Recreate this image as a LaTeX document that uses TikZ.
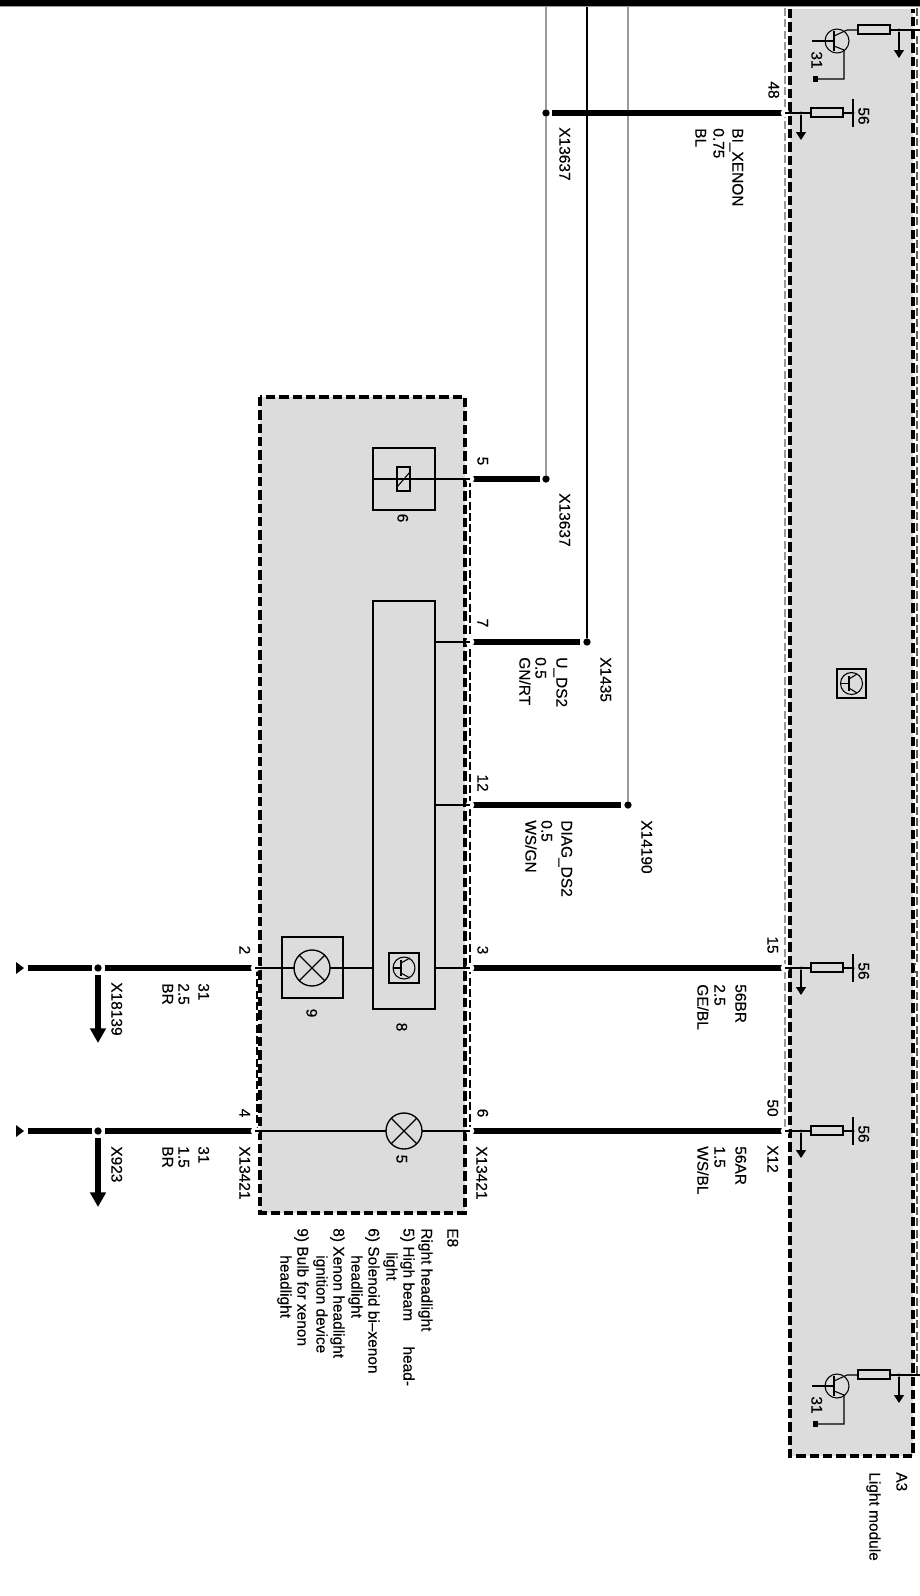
\documentclass[tikz,border=0pt]{standalone}
\usepackage{fontspec}
\setmainfont{Liberation Sans}
\newfontfamily\labfont[FakeBold=0.25]{Liberation Sans}
\usetikzlibrary{arrows.meta,calc,positioning}
\definecolor{boxgray}{HTML}{DCDCDC}
\definecolor{wiregray}{HTML}{9A9A9A}

\begin{document}
\begin{tikzpicture}[x=0.75pt,y=-0.75pt,>=stealth]

    % Styles
    \tikzset{
        lab/.style={rotate=-90, anchor=west, inner sep=0pt, text height=8.4pt, text depth=0pt,
            font=\labfont\fontsize{11.6pt}{13pt}\selectfont},
        pinlab/.style={lab, anchor=center},
        unit/.style={draw=black, line width=2.4pt, dash pattern=on 7pt off 3pt, fill=boxgray},
        shield/.style={line width=0.8pt, dash pattern=on 6pt off 2.5pt},
        wire/.style={line width=4.4pt},
        thin/.style={line width=0.8pt},
        pinhole/.style={circle, fill=white, inner sep=0pt, minimum size=6.5pt},
        junction/.style={circle, fill=black, inner sep=0pt, minimum size=5.5pt},
        smalljoin/.style={circle, fill=black, inner sep=0pt, minimum size=2.6pt},
        part/.style={draw=black, line width=0.8pt},
        fuse/.style={draw=black, line width=1pt, fill=boxgray},
        downthick/.style={line width=3.8pt, -{Triangle[length=11pt,width=11.5pt]}},
        downthin/.style={line width=0.9pt, -{Triangle[length=6pt,width=7.5pt]}}
    }

    \useasboundingbox (0,0) rectangle (920,1596);

    % Top edge of the sheet
    \fill[black] (0,0) rectangle (920,6);
    \fill[wiregray] (0,6) rectangle (920,7);

    % Units
    \draw[unit] (790,9) -- (790,1456) -- (913,1456) -- (913,9);
    \draw[unit] (260,397) rectangle (465,1213);

    % Thin shields
    \draw[shield, wiregray] (785,8) -- (785,1131);
    \draw[shield, wiregray!60!black] (917,8) -- (917,25);
    \draw[shield, wiregray!60!black] (917,36) -- (917,964) -- (914,964);
    \draw[shield, wiregray!60!black] (914,972) -- (917,972) -- (917,1375) -- (913,1375);
    \draw[shield] (470,479) -- (470,1131);
    \draw[shield] (257,968) -- (257,1131);

    % Pins on the right headlight and the light module
    \coordinate (p5) at (470,479);
    \coordinate (p7) at (470,642);
    \coordinate (p12) at (470,805);
    \coordinate (p3) at (470,968);
    \coordinate (p6) at (470,1131);
    \coordinate (p2) at (255,968);
    \coordinate (p4) at (255,1131);
    \coordinate (m48) at (785,113);
    \coordinate (m15) at (785,968);
    \coordinate (m50) at (785,1131);

    % Splices
    \node[junction] (s48) at (546,113) {};
    \node[junction] (s5) at (546,479) {};
    \node[junction] (s7) at (587,642) {};
    \node[junction] (s12) at (628,805) {};
    \node[junction] (g2) at (98,968) {};
    \node[junction] (g4) at (98,1131) {};

    % Vertical wires from above
    \coordinate (t1) at (546,7);
    \coordinate (t2) at (587,7);
    \coordinate (t3) at (628,7);
    \draw[line width=1pt, wiregray] (t1) -- (s48) -- (s5);
    \draw[line width=1pt, black] (t2) -- (s7);
    \draw[line width=1pt, wiregray] (t3) -- (s12);

    % Thick wires
    \draw[wire] ($(s48)+(6,0)$) -- (m48);
    \draw[wire] (p5) -- ($(s5)-(6,0)$);
    \draw[wire] (p7) -- ($(s7)-(7,0)$);
    \draw[wire] (p12) -- ($(s12)-(7,0)$);
    \draw[wire] (p3) -- (m15);
    \draw[wire] (p6) -- (m50);
    \draw[wire] (p2) -- ($(g2)+(7,0)$);
    \draw[wire] ($(g2)-(6,0)$) -- (28,968);
    \draw[wire] (p4) -- ($(g4)+(7,0)$);
    \draw[wire] ($(g4)-(6,0)$) -- (28,1131);

    % Wire ends at left
    \fill[black] (16,962) -- (24,968) -- (16,974) -- cycle;
    \fill[black] (16,1125) -- (24,1131) -- (16,1137) -- cycle;

    % Ground arrows
    \coordinate (a2) at (98,1043);
    \coordinate (a4) at (98,1207);
    \draw[downthick] ($(g2)+(0,7)$) -- (a2);
    \draw[downthick] ($(g4)+(0,7)$) -- (a4);

    % Pin holes
    \foreach \p in {p5,p7,p12,p3,p6,p2,p4,m48,m15,m50}
        \node[pinhole] at (\p) {};

    % Solenoid 6
    \draw[part] (373,448) rectangle (435,510);
    \draw[thin] (373,479) -- (p5);
    \draw[part] (397,467) rectangle (410,491);
    \draw[thin] (397,487) -- (410,472);

    % Ignition device 8
    \draw[part] (373,601) rectangle (435,1009);
    \draw[thin] (435,642) -- (p7);
    \draw[thin] (435,805) -- (p12);
    \draw[thin] (435,968) -- (p3);
    \draw[thin] (p2) -- (295,968);
    \draw[thin] (343,968) -- (373,968);
    \draw[line width=1.2pt] (389,953) rectangle (419,983);
    \draw[thin] (404,968) circle (11);
    \draw[thin] (393,968) -- (401,968);
    \draw[line width=1pt] (401,960) -- (401,976);
    \draw[thin] (401,963) -- (410,958) (401,973) -- (410,978);

    % Bulb 9
    \draw[part] (282,937) rectangle (343,998);
    \draw[line width=1pt] (312,968) circle (18);
    \draw[line width=1pt] (312,968) ++(-12.7,-12.7) -- ++(25.4,25.4);
    \draw[line width=1pt] (312,968) ++(-12.7,12.7) -- ++(25.4,-25.4);
    \draw[thin] (330,968) -- (343,968);

    % Bulb 5
    \draw[thin] (p4) -- (386,1131);
    \draw[thin] (422,1131) -- (p6);
    \draw[line width=1pt] (404,1131) circle (18);
    \draw[line width=1pt] (404,1131) ++(-12.7,-12.7) -- ++(25.4,25.4);
    \draw[line width=1pt] (404,1131) ++(-12.7,12.7) -- ++(25.4,-25.4);

    % Module inputs
    \foreach \y in {113,968,1131} {
        \draw[thin] (785,\y) -- (811,\y);
        \draw[thin] (843,\y) -- (853,\y);
        \draw[fuse] (811,\y-5) rectangle (843,\y+4);
        \draw[line width=1pt] (853,\y-14) -- (853,\y+14);
        \node[smalljoin] (fj\y) at (853,\y) {};
        \node[smalljoin] (fa\y) at (801,\y) {};
        \coordinate (fe\y) at (801,\y+27);
        \draw[downthin] (fa\y) -- (fe\y);
        \node[pinlab] (v\y) at (864,\y+3) {56};
    }

    % Module output stages
    \foreach \y in {30,1375} {
        \draw[thin] (837,\y+11) circle (12);
        \draw[thin] (812,\y+11) -- (834,\y+11);
        \draw[line width=1.1pt] (834,\y+1) -- (834,\y+21);
        \draw[thin] (834,\y+6) -- (847,\y) -- (858,\y);
        \draw[thin] (834,\y+16) -- (844,\y+20) -- (844,\y+49) -- (817,\y+49);
        \fill[black] (813,\y+46) rectangle (818,\y+52);
        \draw[fuse] (858,\y-5) rectangle (890,\y+4);
        \draw[thin] (890,\y) -- (920,\y);
        \node[smalljoin] (oj\y) at (899,\y) {};
        \coordinate (oe\y) at (899,\y+28);
        \draw[downthin] (oj\y) -- (oe\y);
        \node[pinlab] (o\y) at (817,\y+30) {31};
    }

    % Symbol in the middle of the module
    \draw[line width=1.2pt] (837,669) rectangle (866,698);
    \draw[thin] (851.5,683.5) circle (11);
    \draw[thin] (841,683.5) -- (849,683.5);
    \draw[line width=1pt] (849,676) -- (849,691);
    \draw[thin] (849,679) -- (857,674) (849,688) -- (857,693);

    % Pin numbers
    \node[pinlab] (n48) at (774,90) {48};
    \node[pinlab] (n15) at (773,945) {15};
    \node[pinlab] (n50) at (773,1108) {50};
    \node[pinlab] (n5) at (483,461) {5};
    \node[pinlab] (n7) at (483,623) {7};
    \node[pinlab] (n12) at (483,783) {12};
    \node[pinlab] (n3) at (483,950) {3};
    \node[pinlab] (n6) at (483,1113) {6};
    \node[pinlab] (n2) at (245,950) {2};
    \node[pinlab] (n4) at (245,1113) {4};

    % Part numbers
    \node[pinlab] (i6) at (403,518) {6};
    \node[pinlab] (i8) at (402,1027) {8};
    \node[pinlab] (i9) at (312,1013) {9};
    \node[pinlab] (i5) at (402,1159) {5};

    % Wire labels
    \node[lab] (l1) at (738,128) {BI\_XENON};
    \node[lab] (l2) at (719,128) {0.75};
    \node[lab] (l3) at (701,128) {BL};
    \node[lab] (x1) at (565,127) {X13637};
    \node[lab] (x2) at (565,493) {X13637};
    \node[lab] (l4) at (562,657) {U\_DS2};
    \node[lab] (l5) at (541,657) {0.5};
    \node[lab] (l6) at (525,657) {GN/RT};
    \node[lab] (x3) at (606,657) {X1435};
    \node[lab] (l7) at (567,820) {DIAG\_DS2};
    \node[lab] (l8) at (547,820) {0.5};
    \node[lab] (l9) at (531,820) {WS/GN};
    \node[lab] (x4) at (647,820) {X14190};
    \node[lab] (l10) at (741,984) {56BR};
    \node[lab] (l11) at (720,984) {2.5};
    \node[lab] (l12) at (703,984) {GE/BL};
    \node[lab] (l13) at (741,1146) {56AR};
    \node[lab] (l14) at (720,1146) {1.5};
    \node[lab] (l15) at (703,1146) {WS/BL};
    \node[lab] (x5) at (773,1145) {X12};
    \node[lab] (x6) at (482,1146) {X13421};
    \node[lab] (x7) at (245,1146) {X13421};
    \node[lab] (l16) at (204,983) {31};
    \node[lab] (l17) at (184,983) {2.5};
    \node[lab] (l18) at (168,983) {BR};
    \node[lab] (l19) at (204,1146) {31};
    \node[lab] (l20) at (184,1146) {1.5};
    \node[lab] (l21) at (168,1146) {BR};
    \node[lab] (x8) at (117,982) {X18139};
    \node[lab] (x9) at (117,1146) {X923};

    % Headlight legend
    \node[lab] (e1) at (453,1228) {E8};
    \node[lab] (e2) at (427,1228) {Right headlight};
    \node[lab] (e3) at (409,1228) {5) High beam\hspace{19pt}head-};
    \node[lab] (e4) at (392,1252) {light};
    \node[lab] (e5) at (374,1228) {6) Solenoid bi–xenon};
    \node[lab] (e6) at (357,1255) {headlight};
    \node[lab] (e7) at (339,1228) {8) Xenon headlight};
    \node[lab] (e8) at (322,1255) {ignition device};
    \node[lab] (e9) at (303,1228) {9) Bulb for xenon};
    \node[lab] (e10) at (286,1255) {headlight};

    % Module legend
    \node[lab] (a1) at (902,1472) {A3};
    \node[lab] (a3) at (875,1472) {Light module};

\end{tikzpicture}
\end{document}
